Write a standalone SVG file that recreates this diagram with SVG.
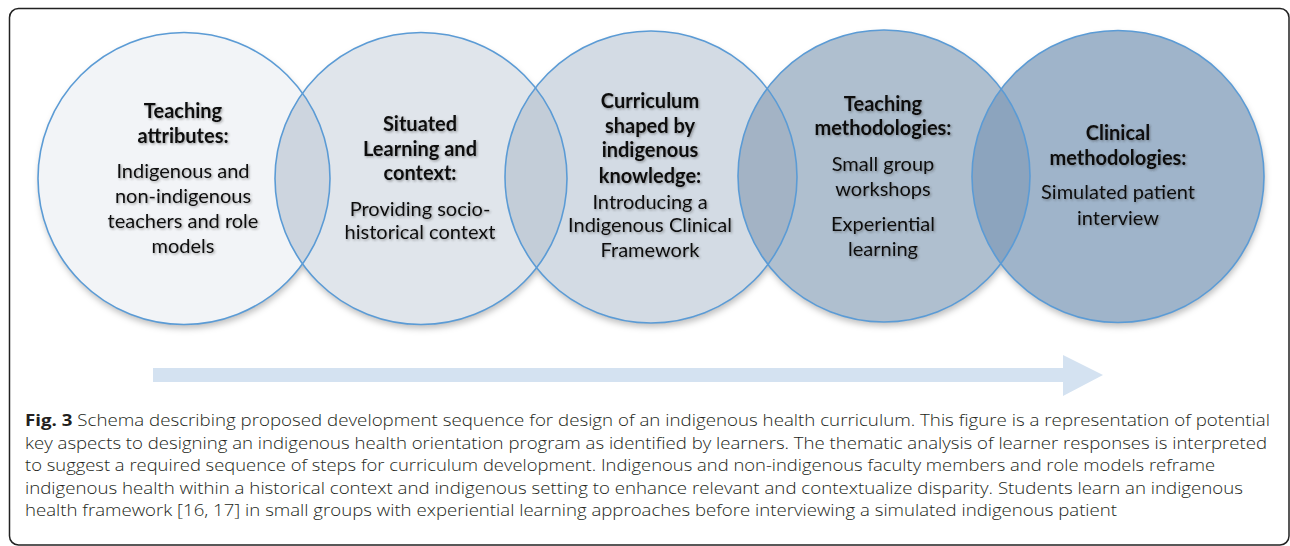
<svg xmlns="http://www.w3.org/2000/svg" width="1290" height="546" viewBox="0 0 1290 546">
  <defs>
    <style>
      .fill { stroke: none; }
      .edge { fill: none; stroke: #5b9bd5; stroke-width: 1.6; }
      .head { font-family: Lato, "Liberation Sans", sans-serif; font-size: 20px; font-weight: 700; fill: #111; text-anchor: middle; }
      .body { font-family: Lato, "Liberation Sans", sans-serif; font-size: 20px; font-weight: 400; fill: #111; text-anchor: middle; }
      .cap { font-family: "Open Sans", "Liberation Sans", sans-serif; font-size: 15.5px; font-weight: 300; fill: #231f20; }
      .cap .b { font-weight: 700; }
    </style>
    <!-- circle outlines, reused for fills, clips and strokes -->
    <circle id="c1" cx="184" cy="178.5" r="146"/>
    <circle id="c2" cx="421" cy="178.5" r="146"/>
    <circle id="c3" cx="651" cy="177" r="146"/>
    <circle id="c4" cx="884" cy="176" r="146"/>
    <circle id="c5" cx="1118" cy="176.5" r="146"/>
    <clipPath id="clip1"><use href="#c1"/></clipPath>
    <clipPath id="clip2"><use href="#c2"/></clipPath>
    <clipPath id="clip3"><use href="#c3"/></clipPath>
    <clipPath id="clip4"><use href="#c4"/></clipPath>
    <filter id="ringShadow" x="-10%" y="-10%" width="120%" height="125%">
      <feDropShadow dx="1" dy="4" stdDeviation="3" flood-color="#000" flood-opacity="0.25"/>
    </filter>
    <filter id="txtShadow" x="-10%" y="-20%" width="120%" height="150%">
      <feDropShadow dx="1.2" dy="1.2" stdDeviation="1.2" flood-color="#333" flood-opacity="0.45"/>
    </filter>
  </defs>

  <rect width="1290" height="546" fill="#fff"/>
  <!-- figure frame -->
  <rect x="9.5" y="8.5" width="1279.5" height="536.5" rx="9" fill="none" stroke="#222" stroke-width="1.5"/>

  <!-- stage circles: fills, overlap lenses, then outlines -->
  <g id="ring-fills" filter="url(#ringShadow)">
    <use href="#c1" class="fill" fill="#f2f4f7"/>
    <use href="#c2" class="fill" fill="#e0e5eb"/>
    <use href="#c3" class="fill" fill="#d3dbe4"/>
    <use href="#c4" class="fill" fill="#afbfcf"/>
    <use href="#c5" class="fill" fill="#9fb4ca"/>
  </g>
  <g id="ring-overlaps">
    <use href="#c2" fill="#cdd5df" clip-path="url(#clip1)"/>
    <use href="#c3" fill="#c3cdd8" clip-path="url(#clip2)"/>
    <use href="#c4" fill="#a3b3c5" clip-path="url(#clip3)"/>
    <use href="#c5" fill="#8ca4be" clip-path="url(#clip4)"/>
  </g>
  <g id="ring-edges">
    <use href="#c1" class="edge"/>
    <use href="#c2" class="edge"/>
    <use href="#c3" class="edge"/>
    <use href="#c4" class="edge"/>
    <use href="#c5" class="edge"/>
  </g>

  <g id="node-teaching-attributes" filter="url(#txtShadow)">
    <text class="head" x="183" y="118">Teaching</text>
    <text class="head" x="183" y="143">attributes:</text>
    <text class="body" x="183" y="178">Indigenous and</text>
    <text class="body" x="183" y="203">non-indigenous</text>
    <text class="body" x="183" y="228">teachers and role</text>
    <text class="body" x="183" y="253">models</text>
  </g>

  <g id="node-situated-learning" filter="url(#txtShadow)">
    <text class="head" x="420" y="131">Situated</text>
    <text class="head" x="420" y="156">Learning and</text>
    <text class="head" x="420" y="180">context:</text>
    <text class="body" x="420" y="216">Providing socio-</text>
    <text class="body" x="420" y="239">historical context</text>
  </g>

  <g id="node-curriculum" filter="url(#txtShadow)">
    <text class="head" x="650" y="108">Curriculum</text>
    <text class="head" x="650" y="133">shaped by</text>
    <text class="head" x="650" y="157">indigenous</text>
    <text class="head" x="650" y="183">knowledge:</text>
    <text class="body" x="650" y="209">Introducing a</text>
    <text class="body" x="650" y="232">Indigenous Clinical</text>
    <text class="body" x="650" y="257">Framework</text>
  </g>

  <g id="node-teaching-methodologies" filter="url(#txtShadow)">
    <text class="head" x="883" y="111">Teaching</text>
    <text class="head" x="883" y="135">methodologies:</text>
    <text class="body" x="883" y="171">Small group</text>
    <text class="body" x="883" y="196">workshops</text>
    <text class="body" x="883" y="231">Experiential</text>
    <text class="body" x="883" y="256">learning</text>
  </g>

  <g id="node-clinical-methodologies" filter="url(#txtShadow)">
    <text class="head" x="1118" y="140">Clinical</text>
    <text class="head" x="1118" y="165">methodologies:</text>
    <text class="body" x="1118" y="199">Simulated patient</text>
    <text class="body" x="1118" y="225">interview</text>
  </g>

  <!-- sequence direction arrow -->
  <g id="connectors">
    <path d="M153 368 H1063 V355 L1103 375 L1063 396 V382 H153 Z" fill="#d4e2f1"/>
  </g>

  <!-- caption -->
  <g id="caption" class="cap">
    <text x="25" y="426" textLength="1245" lengthAdjust="spacingAndGlyphs"><tspan class="b">Fig. 3</tspan> Schema describing proposed development sequence for design of an indigenous health curriculum. This figure is a representation of potential</text>
    <text x="25" y="448.5" textLength="1242" lengthAdjust="spacingAndGlyphs">key aspects to designing an indigenous health orientation program as identified by learners. The thematic analysis of learner responses is interpreted</text>
    <text x="25" y="471" textLength="1190" lengthAdjust="spacingAndGlyphs">to suggest a required sequence of steps for curriculum development. Indigenous and non-indigenous faculty members and role models reframe</text>
    <text x="25" y="493.5" textLength="1218" lengthAdjust="spacingAndGlyphs">indigenous health within a historical context and indigenous setting to enhance relevant and contextualize disparity. Students learn an indigenous</text>
    <text x="25" y="516" textLength="1092" lengthAdjust="spacingAndGlyphs">health framework [16, 17] in small groups with experiential learning approaches before interviewing a simulated indigenous patient</text>
  </g>
</svg>
